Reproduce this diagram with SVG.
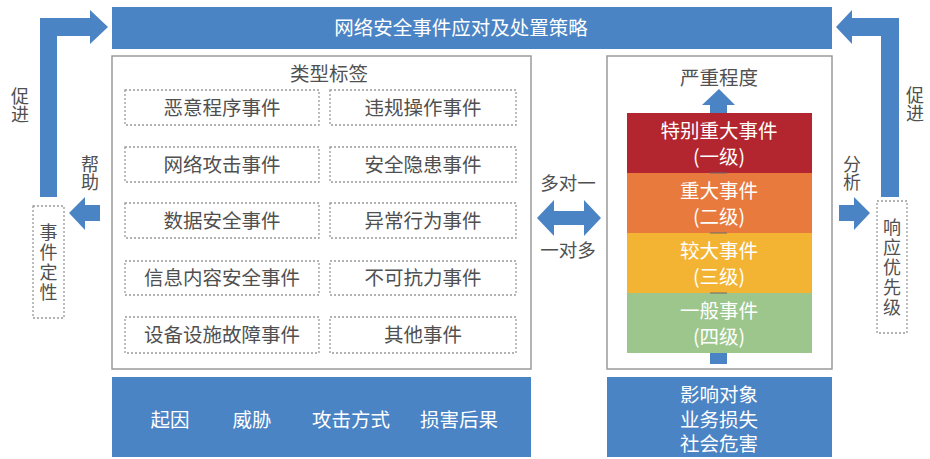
<svg xmlns="http://www.w3.org/2000/svg" width="930" height="459" viewBox="0 0 930 459">
<style>
  text { font-family: "Noto Sans CJK SC", "Noto Sans", sans-serif; }
  .dk { fill: #505050; font-size: 19.5px; text-anchor: middle; }
  .wt { fill: #ffffff; font-size: 19.5px; text-anchor: middle; }
  .side { fill: #505050; font-size: 18.5px; text-anchor: middle; }
  .vert { fill: #505050; font-size: 18px; text-anchor: middle; writing-mode: vertical-rl; text-orientation: upright; }
  .blue { fill: #4A84C5; }
  .panel { fill: #ffffff; stroke: #9a9a9a; stroke-width: 1.5; }
  .dash { fill: #ffffff; stroke: #9a9a9a; stroke-width: 1.3; stroke-dasharray: 2 2; }
</style>
<rect width="930" height="459" fill="#ffffff"/>

<g id="banner">
  <rect class="blue" x="112" y="7" width="720" height="42"/>
  <text class="wt" x="461" y="35">网络安全事件应对及处置策略</text>
</g>

<g id="type-panel">
  <rect class="panel" x="112" y="56" width="419" height="313"/>
  <text class="dk" x="329" y="81">类型标签</text>
</g>
<g id="t1"><rect class="dash" x="125" y="90" width="194" height="35"/><text class="dk" x="222" y="114.5">恶意程序事件</text></g>
<g id="t2"><rect class="dash" x="330" y="90" width="186" height="35"/><text class="dk" x="423" y="114.5">违规操作事件</text></g>
<g id="t3"><rect class="dash" x="125" y="147" width="194" height="35"/><text class="dk" x="222" y="171.5">网络攻击事件</text></g>
<g id="t4"><rect class="dash" x="330" y="147" width="186" height="35"/><text class="dk" x="423" y="171.5">安全隐患事件</text></g>
<g id="t5"><rect class="dash" x="125" y="203" width="194" height="35"/><text class="dk" x="222" y="227.5">数据安全事件</text></g>
<g id="t6"><rect class="dash" x="330" y="203" width="186" height="35"/><text class="dk" x="423" y="227.5">异常行为事件</text></g>
<g id="t7"><rect class="dash" x="125" y="261" width="194" height="34"/><text class="dk" x="222" y="285">信息内容安全事件</text></g>
<g id="t8"><rect class="dash" x="330" y="261" width="186" height="34"/><text class="dk" x="423" y="285">不可抗力事件</text></g>
<g id="t9"><rect class="dash" x="125" y="317" width="194" height="36"/><text class="dk" x="222" y="342">设备设施故障事件</text></g>
<g id="t10"><rect class="dash" x="330" y="317" width="186" height="36"/><text class="dk" x="423" y="342">其他事件</text></g>

<g id="factors">
  <rect class="blue" x="112" y="377" width="419" height="80"/>
  <text class="wt" x="170" y="427">起因</text>
  <text class="wt" x="252" y="427">威胁</text>
  <text class="wt" x="351" y="427">攻击方式</text>
  <text class="wt" x="459" y="427">损害后果</text>
</g>

<g id="severity-panel">
  <rect class="panel" x="607" y="56" width="225" height="313"/>
  <text class="dk" x="719" y="85">严重程度</text>
</g>

<g id="connectors">
  <path class="blue" d="M719,89 L735,105 L727,105 L727,364 L710,364 L710,105 L702,105 Z"/>
  <path class="blue" d="M40,197 L40,18 L90,18 L90,10 L108,27 L90,44 L90,36 L57,36 L57,197 Z"/>
  <path class="blue" d="M899,197 L899,18 L852,18 L852,10 L836,27 L852,44 L852,36 L881,36 L881,197 Z"/>
  <path class="blue" d="M69,213 L85,197 L85,205 L100,205 L100,221 L85,221 L85,230 Z"/>
  <path class="blue" d="M870,213 L854,197 L854,205 L839,205 L839,221 L854,221 L854,230 Z"/>
  <path class="blue" d="M537,218 L554,200 L554,211 L584,211 L584,200 L601,218 L584,236 L584,225 L554,225 L554,236 Z"/>
  <text class="side" x="568" y="190">多对一</text>
  <text class="side" x="568" y="257">一对多</text>
  <text class="vert" x="20" y="105">促进</text>
  <text class="vert" x="90" y="173">帮助</text>
  <text class="vert" x="915" y="104">促进</text>
  <text class="vert" x="852" y="173">分析</text>
</g>

<g id="level1">
  <rect x="627" y="113" width="185" height="60" fill="#B3252F"/>
  <text class="wt" x="719" y="138">特别重大事件<tspan x="719" dy="26">(一级)</tspan></text>
</g>
<g id="level2">
  <rect x="627" y="173" width="185" height="60" fill="#E87A3E"/>
  <text class="wt" x="719" y="198">重大事件<tspan x="719" dy="26">(二级)</tspan></text>
</g>
<g id="level3">
  <rect x="627" y="233" width="185" height="60" fill="#F4B433"/>
  <text class="wt" x="719" y="258">较大事件<tspan x="719" dy="26">(三级)</tspan></text>
</g>
<g id="level4">
  <rect x="627" y="293" width="185" height="60" fill="#9DC68C"/>
  <text class="wt" x="719" y="318">一般事件<tspan x="719" dy="26">(四级)</tspan></text>
</g>
<g id="separators" fill="#6a6a6a">
  <rect x="710" y="172.5" width="17" height="1"/>
  <rect x="710" y="232.5" width="17" height="1"/>
  <rect x="710" y="292.5" width="17" height="1"/>
</g>

<g id="impact">
  <rect class="blue" x="607" y="377" width="225" height="80"/>
  <text class="wt" x="719" y="402">影响对象<tspan x="719" dy="25">业务损失</tspan><tspan x="719" dy="24">社会危害</tspan></text>
</g>

<g id="qualify">
  <rect class="dash" x="33" y="206" width="31" height="112"/>
  <text class="vert" x="48.5" y="263" letter-spacing="2">事件定性</text>
</g>

<g id="priority">
  <rect class="dash" x="877" y="201" width="30" height="132"/>
  <text class="vert" x="892" y="268" letter-spacing="2">响应优先级</text>
</g>
</svg>
